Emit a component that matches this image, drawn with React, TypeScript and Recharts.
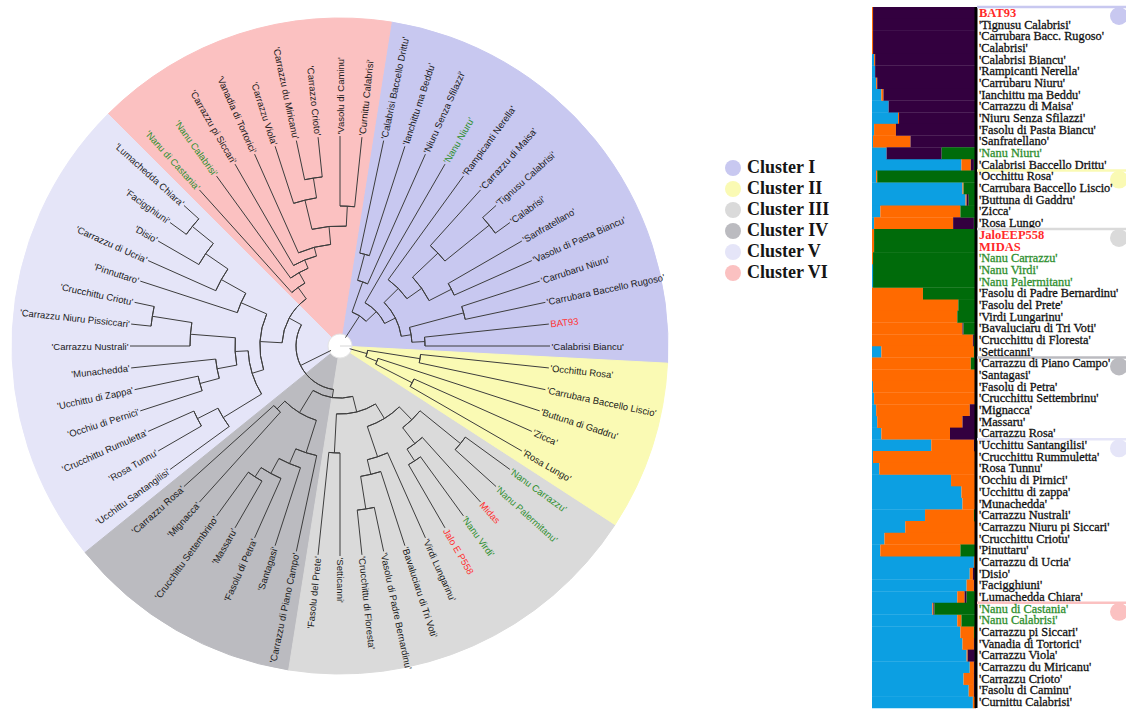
import React from "react";
import { PieChart, Pie, Cell, Legend, BarChart, Bar, XAxis, YAxis } from "recharts";

// clusters (legend order)
const CLUSTER_NAMES = ["Cluster I", "Cluster II", "Cluster III", "Cluster IV", "Cluster V", "Cluster VI"];
const CLUSTER_COLORS = ["#c8c8f0", "#fafab4", "#dadada", "#bbbbc0", "#e5e5f8", "#fbc1c1"];
const CLUSTER_LEAVES = [14, 5, 11, 7, 14, 9];
// order of the clusters round the dendrogram, counter-clockwise from 3 o'clock
const RING_ORDER = [0, 5, 4, 3, 2, 1];

// dendrogram leaves, counter-clockwise
const LEAF_NAMES = [
  "'Calabrisi Biancu'", "BAT93", "'Carrubara Baccello Rugoso'", "'Carrubaru Niuru'",
  "'Vasolu di Pasta Biancu'", "'Sanfratellano'", "'Calabrisi'", "'Tignusu Calabrisi'",
  "'Carrazzu di Maisa'", "'Rampicanti Nerella'", "'Nanu Niuru'", "'Niuru Senza Sfilazzi'",
  "'Ianchittu ma Beddu'", "'Calabrisi Baccello Drittu'",
  "'Curnittu Calabrisi'", "'Vasolu di Caminu'", "'Carrazzo Crioto'", "'Carrazzu du Miricanu'",
  "'Carrazzu Viola'", "'Vanadia di Tortorici'", "'Carrazzu pi Siccari'", "'Nanu Calabrisi'",
  "'Nanu di Castania'",
  "'Lumachedda Chiara'", "'Facigghiuni'", "'Disio'", "'Carrazzu di Ucria'", "'Pinnuttaro'",
  "'Crucchittu Criotu'", "'Carrazzu Niuru Pissiccari'", "'Carrazzu Nustrali'", "'Munachedda'",
  "'Ucchittu di Zappa'", "'Occhiu di Pernici'", "'Crucchittu Rumuletta'", "'Rosa Tunnu'",
  "'Ucchittu Santangilisi'",
  "'Carrazzu Rosa'", "'Mignacca'", "'Crucchittu Settembrino'", "'Massaru'", "'Fasolu di Petra'",
  "'Santagasi'", "'Carrazzu di Piano Campo'",
  "'Fasolu del Prete'", "'Setticanni'", "'Crucchittu di Floresta'", "'Vasolu di Padre Bernardinu'",
  "'Bavaluciaru di Tri Voti'", "'Virdi Lungarinu'", "Jalo E  P558", "'Nanu Virdi'", "Midas",
  "'Nanu Palermitanu'", "'Nanu Carrazzu'",
  "'Rosa Lungo'", "'Zicca'", "'Buttuna di Gaddru'", "'Carrubara Baccello Liscio'", "'Occhittu Rosa'",
];

// tree: [node radius, ...children]; a bare number is a leaf index
const TREE_I = [36,
  [50, [62, [72, [85, 0, 1], [128, 2, 3]], [82, [100, [125, 4, 5], [135, [192, 6, 7], 8]], 9]], 10],
  [68, 11, [95, 12, 13]]];
const TREE_VI = [72, [84, [93, [102, [120, [140, 14, 15], [150, [170, 16, 17], 18]], 19], 20], 21], 22];
const TREE_V = [80, [108, [136, [163, [190, 23, 24], 25], 26], 27],
  [92, [105, [150, [190, 28, 29], 30], [125, 31, [145, 32, 33]]], [137, [160, 34, 35], 36]]];
const TREE_IV = [78, [89, 37, 38], [112, [128, [145, [156, 39, 40], 41], 42], 43]];
const TREE_III = [68, [107, 44, 45],
  [85, [117, [132, [165, 46, 47], 48], 49], [103, [123, [137, 50, 51], 52], [155, 53, 54]]]];
const TREE_II = [28, [40, [81, 55, 56], 57], [81, 58, 59]];
const TREE = [10, TREE_I, [44, [58, TREE_VI, TREE_V], [52, TREE_IV, TREE_III]], TREE_II];

// STRUCTURE plot rows (top to bottom), ancestry in %
const STRUCT_LABELS = [
  "BAT93", "'Tignusu Calabrisi'", "'Carrubara Bacc. Rugoso'", "'Calabrisi'", "'Calabrisi Biancu'",
  "'Rampicanti Nerella'", "'Carrubaru Niuru'", "'Ianchittu ma Beddu'", "'Carrazzu di Maisa'",
  "'Niuru Senza Sfilazzi'", "'Fasolu di Pasta Biancu'", "'Sanfratellano'", "'Nanu Niuru'",
  "'Calabrisi Baccello Drittu'",
  "'Occhittu Rosa'", "'Carrubara Baccello Liscio'", "'Buttuna di Gaddru'", "'Zicca'", "'Rosa Lungo'",
  "JaloEEP558", "MIDAS", "'Nanu Carrazzu'", "'Nanu Virdi'", "'Nanu Palermitanu'",
  "'Fasolu di Padre Bernardinu'", "'Fasolu del Prete'", "'Virdi Lungarinu'", "'Bavaluciaru di Tri Voti'",
  "'Crucchittu di  Floresta'", "'Setticanni'",
  "'Carrazzu di Piano Campo'", "'Santagasi'", "'Fasolu di Petra'", "'Crucchittu Settembrinu'",
  "'Mignacca'", "'Massaru'", "'Carrazzu Rosa'",
  "'Ucchittu Santangilisi'", "'Crucchittu Rummuletta'", "'Rosa Tunnu'", "'Occhiu di Pirnici'",
  "'Ucchittu di zappa'", "'Munachedda'", "'Carrazzu Nustrali'", "'Carrazzu  Niuru pi Siccari'",
  "'Crucchittu Criotu'", "'Pinuttaru'", "'Carrazzu di Ucria'", "'Disio'", "'Facigghiuni'",
  "'Lumachedda Chiara'",
  "'Nanu di Castania'", "'Nanu Calabrisi'", "'Carrazzu pi Siccari'", "'Vanadia di Tortorici'",
  "'Carrazzu Viola'", "'Carrazzu du Miricanu'", "'Carrazzu Crioto'", "'Fasolu di Caminu'",
  "'Curnittu Calabrisi'",
];
const Q_BLUE = [0, 0, 0, 0, 2, 3, 4, 9, 16, 25, 2, 1, 14, 86, 4, 87, 90, 8, 2, 0, 0, 0, 1, 1, 0, 0, 0, 0, 0, 9,
  0, 0, 1, 2, 4, 5, 9, 57, 1, 7, 76, 86, 87, 51, 32, 12, 8, 98, 94, 91, 82, 58, 82, 85, 87, 91, 94, 88, 93, 97];
const Q_ORANGE = [1, 1, 1, 1, 1, 0, 1, 2, 0, 1, 21, 36, 0, 9, 1, 1, 1, 77, 76, 2, 2, 1, 0, 0, 49, 83, 82, 87, 97, 89,
  95, 99, 98, 97, 90, 82, 66, 41, 98, 92, 23, 13, 12, 47, 67, 87, 77, 1, 3, 7, 7, 1, 4, 13, 11, 1, 4, 10, 5, 2];
const Q_PURPLE = [99, 99, 99, 99, 97, 97, 95, 89, 84, 74, 77, 63, 53, 3, 0, 0, 2, 0, 20, 0, 0, 0, 0, 0, 0, 0, 0, 1, 1, 0,
  0, 1, 1, 1, 6, 13, 25, 2, 1, 1, 1, 1, 1, 0, 1, 1, 0, 1, 2, 1, 2, 1, 0, 0, 1, 7, 1, 1, 1, 1];
const Q_GREEN = [0, 0, 0, 0, 0, 0, 0, 0, 0, 0, 0, 0, 33, 2, 95, 12, 7, 15, 2, 98, 98, 99, 99, 99, 51, 17, 18, 12, 2, 2,
  5, 0, 0, 0, 0, 0, 0, 0, 0, 0, 0, 0, 0, 2, 0, 0, 15, 0, 1, 1, 9, 40, 14, 2, 1, 1, 1, 1, 1, 0];

const Q_COLORS = { blue: "#0c9fe2", orange: "#ff6a00", purple: "#33003f", green: "#006b0a" };

const CX = 340;
const CY = 346;
const OUTER_R = 328;
const LEAF_R = 210;
const RING_START = -3;
const LINE = "#3d3d3d";
const RAD = Math.PI / 180;
const ROW_H = (709 - 7 - 1) / STRUCT_LABELS.length;

const polar = (cx: number, cy: number, r: number, a: number) => ({
  x: cx + r * Math.cos(-a * RAD),
  y: cy + r * Math.sin(-a * RAD),
});

const leafColor = (name: string) =>
  !name.startsWith("'") ? "#ff3030" : name.includes("Nanu") ? "#2f8f2f" : "#1a1a1a";

// flatten the tree into arcs (node radius, parent radius, angular extent of children)
const STEP = 360 / LEAF_NAMES.length;
const leafAngle = (i: number) => RING_START + (i + 0.5) * STEP;
const ARCS: { r: number; parentR: number; a0: number; a1: number }[] = [];
const LEAF_PARENT: number[] = [];
const walk = (node: any, parentR: number): number => {
  if (typeof node === "number") {
    LEAF_PARENT[node] = parentR;
    return leafAngle(node);
  }
  const [r, ...kids] = node;
  const angles = kids.map((k: any) => walk(k, r));
  const a0 = Math.min(...angles);
  const a1 = Math.max(...angles);
  ARCS.push({ r, parentR, a0, a1 });
  return (a0 + a1) / 2;
};
walk(TREE, TREE[0] as number);

const ringData = RING_ORDER.map((k) => ({ name: CLUSTER_NAMES[k], value: CLUSTER_LEAVES[k], fill: CLUSTER_COLORS[k] }));
const leafData = LEAF_NAMES.map((name, idx) => ({ name, idx, value: 1 }));
const structData = STRUCT_LABELS.map((name, i) => ({
  name,
  blue: Q_BLUE[i],
  orange: Q_ORANGE[i],
  purple: Q_PURPLE[i],
  green: Q_GREEN[i],
}));
const GROUP_START: number[] = CLUSTER_LEAVES.map((_, k) => CLUSTER_LEAVES.slice(0, k).reduce((s, v) => s + v, 0));

const renderLeaf = (p: any) => {
  const i = p.payload?.idx ?? p.index;
  const name = LEAF_NAMES[i];
  const a = p.midAngle;
  const from = polar(p.cx, p.cy, LEAF_PARENT[i], a);
  const tip = polar(p.cx, p.cy, LEAF_R, a);
  const t = polar(p.cx, p.cy, LEAF_R + 1.5, a);
  const flip = a > 90 && a < 270;
  const rot = flip ? 180 - a : -a;
  return (
    <g>
      <line x1={from.x} y1={from.y} x2={tip.x} y2={tip.y} stroke={LINE} strokeWidth={1} />
      <text
        x={t.x}
        y={t.y}
        transform={`rotate(${rot} ${t.x} ${t.y})`}
        textAnchor={flip ? "end" : "start"}
        dominantBaseline="central"
        fontSize={9.5}
        fontFamily="'Liberation Sans', Arial, sans-serif"
        fill={leafColor(name)}
      >
        {name}
      </text>
    </g>
  );
};

const stem = (parentR: number, r: number) => (p: any) => {
  if (parentR === r) return <g />;
  const a = polar(p.cx, p.cy, r, p.midAngle);
  const b = polar(p.cx, p.cy, parentR, p.midAngle);
  return <line x1={a.x} y1={a.y} x2={b.x} y2={b.y} stroke={LINE} strokeWidth={1} />;
};

const renderLegend = () => (
  <div style={{ fontFamily: "'Liberation Serif', serif", fontWeight: 700, fontSize: 18, color: "#151515" }}>
    {CLUSTER_NAMES.map((n, i) => (
      <div key={n} style={{ display: "flex", alignItems: "center", height: 21 }}>
        <span
          style={{
            display: "inline-block",
            width: 16,
            height: 16,
            borderRadius: 8,
            background: CLUSTER_COLORS[i],
            marginRight: 6,
          }}
        />
        {n}
      </div>
    ))}
  </div>
);

const StructTick = (p: any) => {
  const i = p.index;
  const name = STRUCT_LABELS[i];
  const g = GROUP_START.indexOf(i);
  const top = p.y - ROW_H / 2;
  const red = !name.startsWith("'");
  const green = name.includes("Nanu");
  return (
    <g>
      {g >= 0 && (
        <>
          <line x1={p.x - 2} x2={270} y1={top} y2={top} stroke={CLUSTER_COLORS[g]} strokeWidth={2.5} />
          <circle cx={259} cy={top + 9} r={9} fill={CLUSTER_COLORS[g]} />
        </>
      )}
      <text
        x={p.x}
        y={p.y + 4}
        textAnchor="start"
        fontFamily="'Liberation Serif', serif"
        fontSize={red ? 12.5 : 12.3}
        fontWeight={red ? 700 : 400}
        fill={red ? "#ff2a2a" : green ? "#2f8f2f" : "#111"}
        stroke={red ? "none" : green ? "#2f8f2f" : "#111"}
        strokeWidth={0.3}
      >
        {name}
      </text>
    </g>
  );
};

export default function App() {
  return (
    <div style={{ position: "absolute", left: 0, top: 0, width: 1126, height: 709, background: "#fff", overflow: "hidden" }}>
      <div style={{ position: "absolute", left: 0, top: 0 }}>
        <PieChart width={870} height={709} margin={{ top: 0, right: 0, bottom: 0, left: 0 }}>
          <Pie
            data={ringData}
            dataKey="value"
            cx={CX}
            cy={CY}
            innerRadius={0}
            outerRadius={OUTER_R}
            startAngle={RING_START}
            endAngle={RING_START + 360}
            isAnimationActive={false}
            legendType="none"
          >
            {ringData.map((d) => (
              <Cell key={d.name} fill={d.fill} stroke={d.fill} />
            ))}
          </Pie>
          <Pie
            data={leafData}
            dataKey="value"
            cx={CX}
            cy={CY}
            innerRadius={LEAF_R - 1}
            outerRadius={LEAF_R}
            startAngle={RING_START}
            endAngle={RING_START + 360}
            fill="none"
            stroke="none"
            isAnimationActive={false}
            legendType="none"
            label={renderLeaf}
            labelLine={false}
          />
          {ARCS.map((n, k) => (
            <Pie
              key={`arc-${k}`}
              data={[{ value: 1 }]}
              dataKey="value"
              cx={CX}
              cy={CY}
              innerRadius={n.r}
              outerRadius={n.r}
              startAngle={n.a0}
              endAngle={n.a1}
              fill="none"
              stroke={LINE}
              strokeWidth={1}
              isAnimationActive={false}
              legendType="none"
              label={stem(n.parentR, n.r)}
              labelLine={false}
            />
          ))}
          <Pie
            data={[{ value: 1 }]}
            dataKey="value"
            cx={CX}
            cy={CY}
            outerRadius={12}
            startAngle={0}
            endAngle={360}
            fill="#ffffff"
            stroke="#e4e4e4"
            isAnimationActive={false}
            legendType="none"
          />
          <Legend
            content={renderLegend}
            layout="vertical"
            align="right"
            verticalAlign="top"
            wrapperStyle={{ left: 725, top: 157, right: "auto", width: 150 }}
          />
        </PieChart>
      </div>
      <div style={{ position: "absolute", left: 860, top: 0 }}>
        <BarChart
          width={266}
          height={709}
          data={structData}
          layout="vertical"
          barCategoryGap={0}
          margin={{ top: 7, right: 0, bottom: 1, left: 12 }}
        >
          <XAxis
            type="number"
            domain={[0, 100]}
            orientation="top"
            height={0}
            tick={false}
            tickLine={false}
            axisLine={{ stroke: "#000", strokeWidth: 1.5 }}
          />
          <YAxis
            yAxisId="l"
            type="category"
            dataKey="name"
            orientation="left"
            width={0}
            tick={false}
            tickLine={false}
            axisLine={{ stroke: "#000", strokeWidth: 5 }}
          />
          <YAxis
            yAxisId="r"
            type="category"
            dataKey="name"
            orientation="right"
            width={150}
            interval={0}
            tickSize={0}
            tickMargin={3}
            tickLine={false}
            axisLine={{ stroke: "#000", strokeWidth: 3 }}
            tick={<StructTick />}
          />
          <Bar yAxisId="r" dataKey="blue" stackId="q" fill={Q_COLORS.blue} isAnimationActive={false} />
          <Bar yAxisId="r" dataKey="orange" stackId="q" fill={Q_COLORS.orange} isAnimationActive={false} />
          <Bar yAxisId="r" dataKey="purple" stackId="q" fill={Q_COLORS.purple} isAnimationActive={false} />
          <Bar yAxisId="r" dataKey="green" stackId="q" fill={Q_COLORS.green} isAnimationActive={false} />
        </BarChart>
      </div>
    </div>
  );
}
